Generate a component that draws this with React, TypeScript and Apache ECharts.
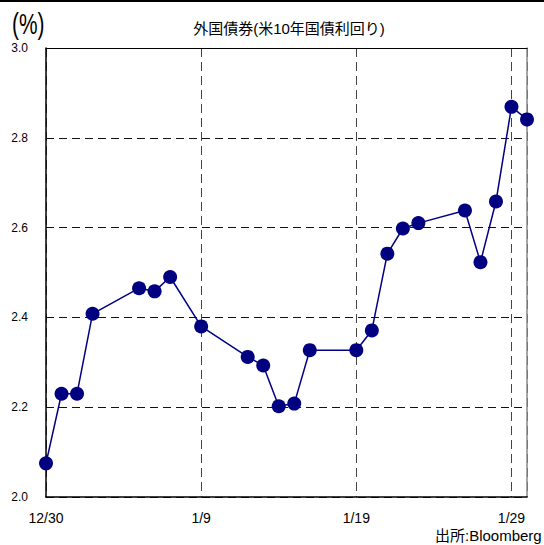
import React, { useEffect, useRef } from "react";
import * as echarts from "echarts";

// US 10-year Treasury yield, daily closes (%)
const dates = [
  "12/30", "12/31", "1/1", "1/2", "1/5", "1/6", "1/7", "1/9",
  "1/12", "1/13", "1/14", "1/15", "1/16", "1/19", "1/20", "1/21",
  "1/22", "1/23", "1/26", "1/27", "1/28", "1/29", "1/30",
];
const yields = [
  2.075, 2.23, 2.23, 2.408, 2.465, 2.458, 2.49, 2.38,
  2.312, 2.293, 2.202, 2.208, 2.327, 2.327, 2.371, 2.542,
  2.598, 2.61, 2.638, 2.523, 2.658, 2.869, 2.841,
];
const xTickLabels = ["12/30", "1/9", "1/19", "1/29"];

const title = "外国債券(米10年国債利回り)";
const unitLabel = "(%)";
const sourceLabel = "出所:Bloomberg";

// days elapsed since 12/30 (Dec 30 -> Jan 1 spans two days)
const dayOffset = (md: string) => {
  const [m, d] = md.split("/").map(Number);
  return m === 12 ? d - 30 : d + 1;
};

const FONT = "'Liberation Sans', Arial, sans-serif";
const JFONT = "'Liberation Sans', 'Noto Sans CJK JP', sans-serif";

export default function App() {
  const ref = useRef<HTMLDivElement>(null);

  useEffect(() => {
    if (!ref.current) return;
    const chart = echarts.init(ref.current, undefined, { renderer: "svg" });
    const navy = "#000080";

    chart.setOption({
      animation: false,
      backgroundColor: "#ffffff",
      grid: { left: 46, right: 17, top: 48, bottom: 48, containLabel: false },
      graphic: [
        { type: "rect", shape: { x: 0, y: 0, width: 544, height: 2 }, style: { fill: "#000" } },
        {
          type: "text", x: 12, y: 24, scaleX: 0.95, scaleY: 1.3,
          style: { text: unitLabel, font: `22px ${FONT}`, fill: "#000", verticalAlign: "middle" },
        },
        {
          type: "text", x: 289, y: 28,
          style: { text: title, font: `15px ${JFONT}`, fill: "#000", align: "center", verticalAlign: "middle" },
        },
        {
          type: "text", x: 435, y: 535,
          style: { text: sourceLabel, font: `15px ${JFONT}`, fill: "#000", verticalAlign: "middle" },
        },
      ],
      xAxis: [
        {
          type: "value",
          min: 0,
          max: 31,
          interval: 10,
          axisLine: { show: true, onZero: false, lineStyle: { color: "#000", width: 1.5 } },
          axisTick: { show: false },
          axisLabel: {
            margin: 14,
            color: "#000",
            fontSize: 14,
            fontFamily: FONT,
            showMaxLabel: false,
            formatter: (v: number) => (v % 10 === 0 ? xTickLabels[v / 10] ?? "" : ""),
          },
          splitLine: { show: true, lineStyle: { color: "#444", type: [9, 5], width: 1 } },
        },
        {
          type: "value",
          position: "top",
          min: 0,
          max: 31,
          axisLine: { show: true, onZero: false, lineStyle: { color: "#000", width: 1 } },
          axisTick: { show: false },
          axisLabel: { show: false },
          splitLine: { show: false },
        },
      ],
      yAxis: [
        {
          type: "value",
          min: 2,
          max: 3,
          interval: 0.2,
          axisLine: { show: true, onZero: false, lineStyle: { color: "#000", width: 1.5 } },
          axisTick: { show: false },
          axisLabel: {
            margin: 18,
            color: "#000",
            fontSize: 12,
            fontFamily: FONT,
            formatter: (v: number) => v.toFixed(1),
          },
          splitLine: { show: true, lineStyle: { color: "#111", type: [8, 5], width: 1 } },
        },
        {
          type: "value",
          position: "right",
          min: 2,
          max: 3,
          axisLine: { show: true, onZero: false, lineStyle: { color: "#888", width: 1.5 } },
          axisTick: { show: false },
          axisLabel: { show: false },
          splitLine: { show: false },
        },
      ],
      series: [
        {
          type: "line",
          data: dates.map((d, i) => [dayOffset(d), yields[i]]),
          symbol: "circle",
          symbolSize: 14,
          clip: false,
          itemStyle: { color: navy },
          lineStyle: { color: navy, width: 1.5 },
          z: 5,
        },
      ],
    });

    return () => chart.dispose();
  }, []);

  return (
    <div
      ref={ref}
      style={{ position: "fixed", left: 0, top: 0, width: 544, height: 545 }}
    />
  );
}
